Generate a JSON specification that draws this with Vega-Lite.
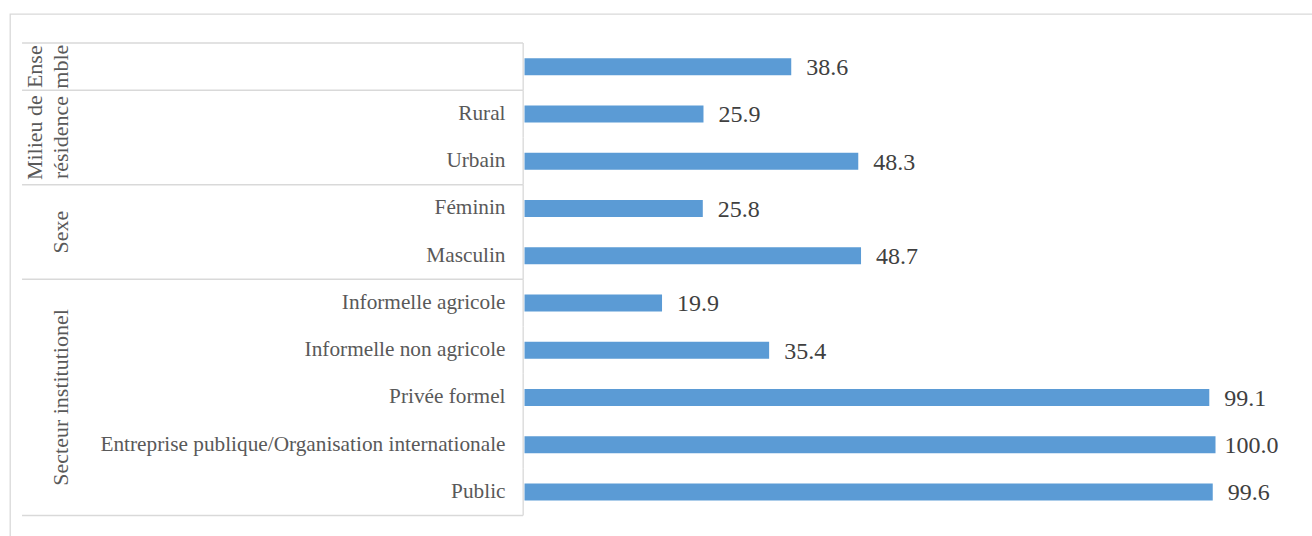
{
  "$schema": "https://vega.github.io/schema/vega-lite/v6.json",
  "autosize": {"type": "none"},
  "padding": {"left": 10, "top": 14, "right": 0, "bottom": 0},
  "width": 1310,
  "height": 530.7,
  "background": "white",
  "config": {
    "view": {"stroke": "#d9d9d9", "strokeWidth": 1.3},
    "font": "Liberation Serif"
  },
  "datasets": {
    "valeurs": [
      {"groupe": "Ensemble", "categorie": "Ensemble", "valeur": 38.6},
      {"groupe": "Milieu de résidence", "categorie": "Rural", "valeur": 25.9},
      {"groupe": "Milieu de résidence", "categorie": "Urbain", "valeur": 48.3},
      {"groupe": "Sexe", "categorie": "Féminin", "valeur": 25.8},
      {"groupe": "Sexe", "categorie": "Masculin", "valeur": 48.7},
      {"groupe": "Secteur institutionel", "categorie": "Informelle agricole", "valeur": 19.9},
      {"groupe": "Secteur institutionel", "categorie": "Informelle non agricole", "valeur": 35.4},
      {"groupe": "Secteur institutionel", "categorie": "Privée formel", "valeur": 99.1},
      {"groupe": "Secteur institutionel", "categorie": "Entreprise publique/Organisation internationale\u00a0", "valeur": 100.0},
      {"groupe": "Secteur institutionel", "categorie": "Public", "valeur": 99.6}
    ],
    "groupe_ensemble": [
      {"libelle": "Ense\nmble", "ancre": "Ensemble"}
    ],
    "groupe_secteur": [
      {"libelle": "Secteur institutionel", "ancre": "Privée formel"}
    ],
    "groupe_milieu": [
      {"libelle": "Milieu de\nrésidence", "ancre": "Urbain"}
    ],
    "groupe_sexe": [
      {"libelle": "Sexe", "ancre": "Masculin"}
    ],
    "debuts": [
      {"categorie": "Ensemble"},
      {"categorie": "Rural"},
      {"categorie": "Féminin"},
      {"categorie": "Informelle agricole"}
    ],
    "fin": [
      {"categorie": "Public"}
    ]
  },
  "encoding": {
    "y": {
      "field": "categorie",
      "type": "nominal",
      "sort": null,
      "scale": {
        "domain": ["Ensemble", "Rural", "Urbain", "Féminin", "Masculin", "Informelle agricole", "Informelle non agricole", "Privée formel", "Entreprise publique/Organisation internationale\u00a0", "Public"],
        "paddingInner": 0,
        "paddingOuter": 0.616
      },
      "axis": {
        "title": null,
        "orient": "left",
        "offset": -513,
        "domain": false,
        "ticks": false,
        "grid": false,
        "labelPadding": 18,
        "labelFont": "Liberation Serif",
        "labelFontSize": 21.3,
        "labelColor": "#595959",
        "labelLimit": 600,
        "labelExpr": "datum.value == 'Ensemble' ? '' : datum.value"
      }
    }
  },
  "layer": [
    {
      "data": {"name": "valeurs"},
      "mark": {"type": "bar", "color": "#5b9bd5", "height": {"band": 0.36}},
      "encoding": {
        "x": {
          "field": "valeur",
          "type": "quantitative",
          "scale": {"domain": [-74.46, 115.12], "nice": false, "zero": false},
          "axis": null
        }
      }
    },
    {
      "data": {"name": "valeurs"},
      "mark": {"type": "text", "align": "center", "baseline": "middle", "dx": 36, "dy": 1.5, "fontSize": 24, "color": "#404040", "font": "Liberation Serif"},
      "encoding": {
        "x": {"field": "valeur", "type": "quantitative"},
        "text": {"field": "valeur", "type": "quantitative", "format": ".1f"}
      }
    },
    {
      "data": {"name": "valeurs"},
      "mark": {"type": "rect", "color": "#d9d9d9"},
      "encoding": {
        "x": {"datum": -0.29, "type": "quantitative"},
        "x2": {"datum": -0.1}
      }
    },
    {
      "data": {"name": "debuts"},
      "mark": {"type": "rule", "color": "#d9d9d9", "strokeWidth": 1.5},
      "encoding": {
        "y": {"field": "categorie", "type": "nominal", "bandPosition": 0},
        "x": {"datum": -72.72, "type": "quantitative"},
        "x2": {"datum": -0.22}
      }
    },
    {
      "data": {"name": "fin"},
      "mark": {"type": "rule", "color": "#d9d9d9", "strokeWidth": 1.5},
      "encoding": {
        "y": {"field": "categorie", "type": "nominal", "bandPosition": 1},
        "x": {"datum": -72.72, "type": "quantitative"},
        "x2": {"datum": -0.22}
      }
    },
    {
      "data": {"name": "groupe_ensemble"},
      "mark": {"type": "text", "angle": 270, "align": "center", "baseline": "bottom", "lineBreak": "\n", "lineHeight": 26.5, "dy": -26.5, "fontSize": 22, "color": "#595959", "font": "Liberation Serif"},
      "encoding": {
        "y": {"field": "ancre", "type": "nominal", "bandPosition": 0.5},
        "x": {"datum": -65.3, "type": "quantitative"},
        "text": {"field": "libelle"}
      }
    },
    {
      "data": {"name": "groupe_secteur"},
      "mark": {"type": "text", "angle": 270, "align": "center", "baseline": "bottom", "fontSize": 22, "color": "#595959", "font": "Liberation Serif"},
      "encoding": {
        "y": {"field": "ancre", "type": "nominal", "bandPosition": 0.5},
        "x": {"datum": -65.3, "type": "quantitative"},
        "text": {"field": "libelle"}
      }
    },
    {
      "data": {"name": "groupe_milieu"},
      "mark": {"type": "text", "angle": 270, "align": "center", "baseline": "bottom", "lineBreak": "\n", "lineHeight": 26.5, "dy": -26.5, "fontSize": 22, "color": "#595959", "font": "Liberation Serif"},
      "encoding": {
        "y": {"field": "ancre", "type": "nominal", "bandPosition": 0},
        "x": {"datum": -65.3, "type": "quantitative"},
        "text": {"field": "libelle"}
      }
    },
    {
      "data": {"name": "groupe_sexe"},
      "mark": {"type": "text", "angle": 270, "align": "center", "baseline": "bottom", "fontSize": 22, "color": "#595959", "font": "Liberation Serif"},
      "encoding": {
        "y": {"field": "ancre", "type": "nominal", "bandPosition": 0},
        "x": {"datum": -65.3, "type": "quantitative"},
        "text": {"field": "libelle"}
      }
    }
  ]
}
